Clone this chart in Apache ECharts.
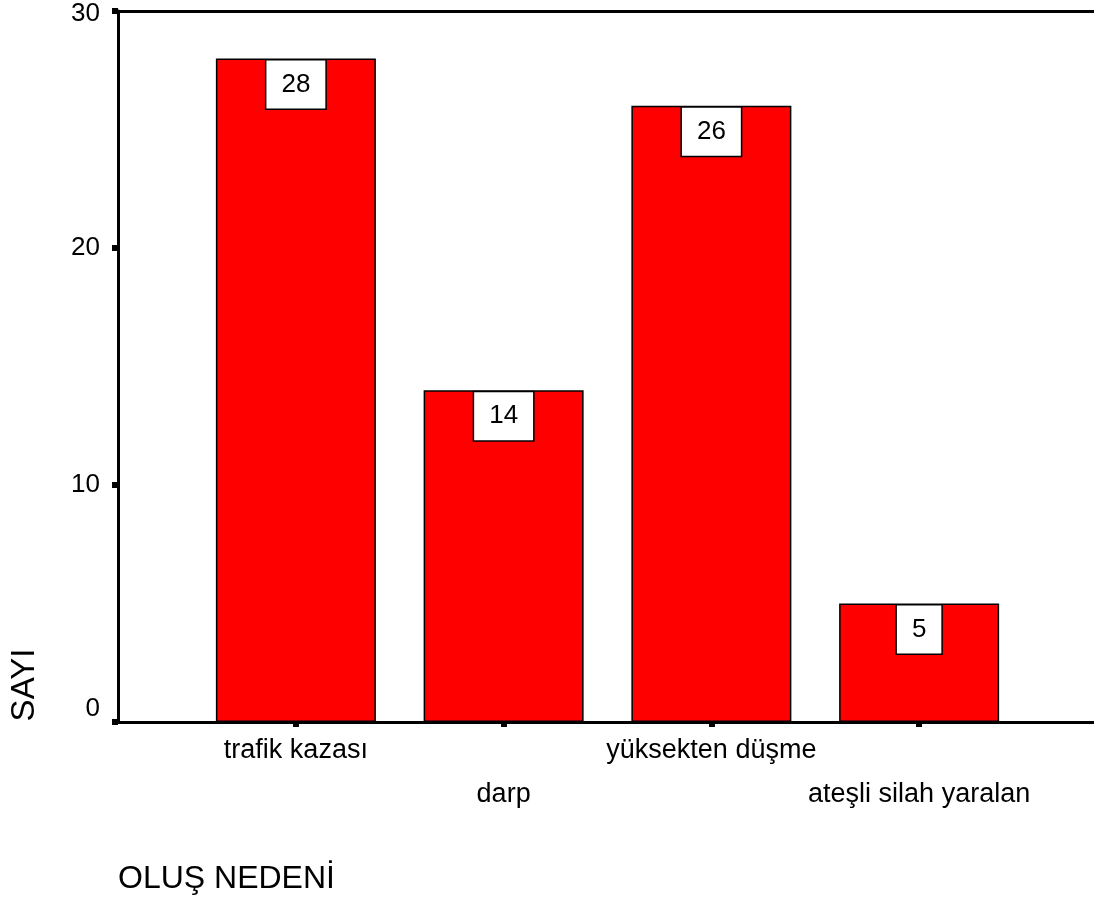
<!DOCTYPE html>
<html>
<head>
<meta charset="utf-8">
<script src="https://cdn.jsdelivr.net/npm/echarts@6/dist/echarts.min.js"></script>
<style>
  html, body { margin: 0; padding: 0; background: #fff; }
  #chart { width: 1094px; height: 906px; }
</style>
</head>
<body>
<div id="chart"></div>
<script>
// Injury causes and their counts
const categories = ['trafik kazası', 'darp', 'yüksekten düşme', 'ateşli silah yaralan'];
const counts = [28, 14, 26, 5];
const yTicks = { min: 0, max: 30, interval: 10 };
const xTitle = 'OLUŞ NEDENİ';
const yTitle = 'SAYI';

const FONT = '"Liberation Sans", Arial, sans-serif';
const chart = echarts.init(document.getElementById('chart'), null, { renderer: 'canvas' });

const frameLine = { show: true, lineStyle: { color: '#000', width: 3 } };

const option = {
  backgroundColor: '#fff',
  animation: false,
  grid: [
    // frame: left, bottom and top lines; open on the right
    { left: 118, top: 11, right: 0, bottom: 184 },
    // bars, narrower than the frame
    { left: 192, width: 831, top: 11, bottom: 184 }
  ],
  xAxis: [
    { gridIndex: 0, type: 'value', min: 0, max: 1, position: 'bottom',
      axisLine: frameLine, axisTick: { show: false }, axisLabel: { show: false }, splitLine: { show: false } },
    { gridIndex: 1, type: 'category', data: categories,
      axisLine: { show: false },
      axisTick: { show: true, alignWithLabel: true, length: 5, lineStyle: { color: '#000', width: 6 } },
      axisLabel: {
        interval: 0, margin: 15, color: '#000', fontFamily: FONT, fontSize: 27,
        formatter: (v, i) => (i % 2 ? '{lo|' + v + '}' : '{hi|' + v + '}'),
        rich: {
          hi: { fontFamily: FONT, fontSize: 27, color: '#000' },
          lo: { fontFamily: FONT, fontSize: 27, color: '#000', padding: [44, 0, 0, 0] }
        }
      } },
    { gridIndex: 0, type: 'value', min: 0, max: 1, position: 'top',
      axisLine: frameLine, axisTick: { show: false }, axisLabel: { show: false }, splitLine: { show: false } }
  ],
  yAxis: [
    { gridIndex: 0, type: 'value', min: yTicks.min, max: yTicks.max, interval: yTicks.interval,
      axisLine: frameLine,
      axisTick: { show: true, length: 6, lineStyle: { color: '#000', width: 6 } },
      splitLine: { show: false },
      axisLabel: {
        margin: 18, color: '#000', fontFamily: FONT, fontSize: 26,
        formatter: v => (v === 0 ? '{z|0}' : v === yTicks.max ? '{t|' + v + '}' : String(v)),
        rich: {
          z: { fontFamily: FONT, fontSize: 26, color: '#000', padding: [0, 0, 26, 0] },
          t: { fontFamily: FONT, fontSize: 26, color: '#000', padding: [6, 0, 0, 0] }
        }
      } },
    { gridIndex: 1, type: 'value', min: yTicks.min, max: yTicks.max, interval: yTicks.interval, show: false }
  ],
  series: [{
    type: 'bar', xAxisIndex: 1, yAxisIndex: 1,
    data: counts,
    barWidth: 160,
    itemStyle: { color: '#ff0000', borderColor: '#000', borderWidth: 1.5 },
    label: {
      show: true, position: 'insideTop', distance: 2,
      color: '#000', fontFamily: FONT, fontSize: 26, lineHeight: 26,
      backgroundColor: '#fff', borderColor: '#000', borderWidth: 1.5,
      padding: [11, 15]
    }
  }],
  graphic: [
    { type: 'text', left: 118, top: 863,
      style: { text: xTitle, font: '32px ' + FONT, fill: '#000' } },
    { type: 'text', x: 25, y: 685, rotation: Math.PI / 2,
      style: { text: yTitle, font: '33px ' + FONT, fill: '#000', align: 'center', verticalAlign: 'middle' } }
  ]
};

chart.setOption(option);
</script>
</body>
</html>
